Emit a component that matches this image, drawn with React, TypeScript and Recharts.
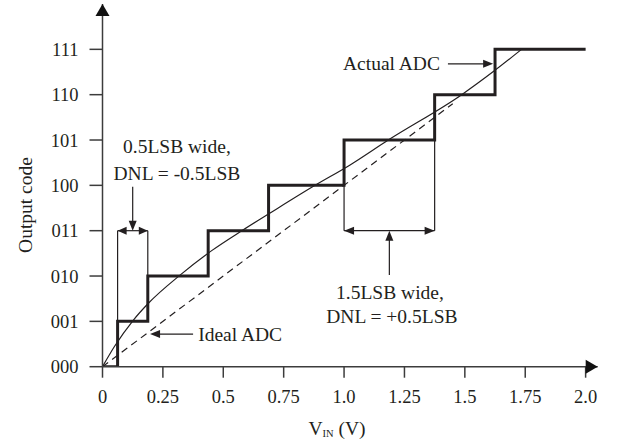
import {
  ComposedChart,
  Line,
  XAxis,
  YAxis,
  ReferenceLine,
  ReferenceDot,
} from "recharts";

// transfer curve data
const stepVin = [0, 0.0625, 0.1875, 0.4375, 0.6875, 1.0, 1.375, 1.625, 2.0];
const stepCode = [0, 1, 2, 3, 4, 5, 6, 7, 7];

const idealVin = [0, 1.45];
const idealCode = [0, 5.8];

const curveVin = [0, 0.05, 0.128, 0.19, 0.321, 0.452, 0.583, 0.694, 0.88, 1.025, 1.183, 1.487, 1.618, 1.735];
const curveCode = [0, 0.45, 1.03, 1.4, 2.02, 2.56, 3.02, 3.39, 4.0, 4.45, 5.0, 6.0, 6.51, 7.0];

const xTicks = [0, 0.25, 0.5, 0.75, 1.0, 1.25, 1.5, 1.75, 2.0];
const xTickLabels = ["0", "0.25", "0.5", "0.75", "1.0", "1.25", "1.5", "1.75", "2.0"];
const yTicks = [0, 1, 2, 3, 4, 5, 6, 7];
const yTickLabels = ["000", "001", "010", "011", "100", "101", "110", "111"];

const stepData = stepVin.map((x, i) => ({ x, y: stepCode[i] }));
const idealData = idealVin.map((x, i) => ({ x, y: idealCode[i] }));
const curveData = curveVin.map((x, i) => ({ x, y: curveCode[i] }));

const INK = "#231f20";
const AXIS = "#3c3c3c";
const FONT = "'Liberation Serif', 'Times New Roman', serif";
const NOTE_SIZE = 19.5;

type Dir = "up" | "down" | "left" | "right";

// filled triangle with its tip on (cx, cy)
const head = (dir: Dir, len = 10, half = 4, color = INK) => (p: any) => {
  const { cx, cy } = p;
  let pts = "";
  if (dir === "right") pts = `${cx},${cy} ${cx - len},${cy - half} ${cx - len},${cy + half}`;
  if (dir === "left") pts = `${cx},${cy} ${cx + len},${cy - half} ${cx + len},${cy + half}`;
  if (dir === "up") pts = `${cx},${cy} ${cx - half},${cy + len} ${cx + half},${cy + len}`;
  if (dir === "down") pts = `${cx},${cy} ${cx - half},${cy - len} ${cx + half},${cy - len}`;
  return <polygon points={pts} fill={color} />;
};

const note = (text: string, anchor: "start" | "middle" | "end" = "middle") => (p: any) => (
  <text
    x={p.cx}
    y={p.cy}
    textAnchor={anchor}
    dominantBaseline="central"
    fontFamily={FONT}
    fontSize={NOTE_SIZE}
    fill={INK}
  >
    {text}
  </text>
);

const seg = (x1: number, y1: number, x2: number, y2: number, key: string) => (
  <ReferenceLine
    key={key}
    segment={[{ x: x1, y: y1 }, { x: x2, y: y2 }]}
    stroke={INK}
    strokeWidth={1.2}
    ifOverflow="visible"
  />
);

const dot = (x: number, y: number, shape: any, key: string) => (
  <ReferenceDot key={key} x={x} y={y} r={0} shape={shape} ifOverflow="visible" />
);

export default function App() {
  return (
    <div style={{ position: "absolute", left: 0, top: 0, background: "#fff" }}>
      <ComposedChart
        width={619}
        height={443}
        margin={{ top: 4, right: 21.3, bottom: 31.3, left: 22.5 }}
      >
        <XAxis
          type="number"
          dataKey="x"
          domain={[0, 2.05]}
          ticks={xTicks}
          allowDataOverflow
          tickFormatter={(v: number) => xTickLabels[xTicks.indexOf(v)] ?? ""}
          height={45}
          tickSize={11}
          tickMargin={12}
          stroke={AXIS}
          strokeWidth={1.5}
          tick={{ fill: INK, fontSize: 18.5, fontFamily: FONT }}
          label={() => (
            <text x={337} y={428} textAnchor="middle" dominantBaseline="central" fontFamily={FONT} fontSize={NOTE_SIZE} fill={INK}>
              V
              <tspan fontSize={10.5} dy={5}>IN</tspan>
              <tspan dy={-5}> (V)</tspan>
            </text>
          )}
        />
        <YAxis
          type="number"
          dataKey="y"
          domain={[0, 8]}
          ticks={yTicks}
          allowDataOverflow
          tickFormatter={(v: number) => yTickLabels[v] ?? ""}
          width={80}
          tickSize={13}
          tickMargin={11}
          stroke={AXIS}
          strokeWidth={1.5}
          tick={{ fill: INK, fontSize: 18.5, fontFamily: FONT }}
          label={() => (
            <text
              x={25}
              y={205}
              transform="rotate(-90, 25, 205)"
              textAnchor="middle"
              dominantBaseline="central"
              fontFamily={FONT}
              fontSize={NOTE_SIZE}
              fill={INK}
            >
              Output code
            </text>
          )}
        />

        {/* axis arrowheads */}
        {dot(0, 8, head("up", 12, 7, "#111"), "yarrow")}
        {dot(2.05, 0, head("right", 12, 7, "#111"), "xarrow")}

        <Line
          data={idealData}
          dataKey="y"
          type="linear"
          stroke={INK}
          strokeWidth={1.2}
          strokeDasharray="7 5"
          dot={false}
          isAnimationActive={false}
        />
        <Line
          data={curveData}
          dataKey="y"
          type="monotone"
          stroke={INK}
          strokeWidth={1.2}
          dot={false}
          isAnimationActive={false}
        />
        <Line
          data={stepData}
          dataKey="y"
          type="stepAfter"
          stroke={INK}
          strokeWidth={3}
          dot={false}
          isAnimationActive={false}
        />

        {/* 0.5 LSB annotation */}
        {seg(0.0625, 1, 0.0625, 3, "a1")}
        {seg(0.1875, 2, 0.1875, 3, "a2")}
        {seg(0.0625, 3, 0.1875, 3, "a3")}
        {dot(0.0625, 3, head("left", 9, 4), "a4")}
        {dot(0.1875, 3, head("right", 9, 4), "a5")}
        {seg(0.125, 3.97, 0.125, 3.15, "a6")}
        {dot(0.125, 3, head("down", 10, 4), "a7")}
        {dot(0.308, 4.85, note("0.5LSB wide,"), "a8")}
        {dot(0.308, 4.27, note("DNL = -0.5LSB"), "a9")}

        {/* 1.5 LSB annotation */}
        {seg(1.0, 4, 1.0, 3, "b1")}
        {seg(1.375, 5, 1.375, 3, "b2")}
        {seg(1.0, 3, 1.375, 3, "b3")}
        {dot(1.0, 3, head("left", 10, 4), "b4")}
        {dot(1.375, 3, head("right", 10, 4), "b5")}
        {seg(1.1875, 2.02, 1.1875, 2.85, "b6")}
        {dot(1.1875, 3, head("up", 10, 4), "b7")}
        {dot(1.19, 1.63, note("1.5LSB wide,"), "b8")}
        {dot(1.198, 1.1, note("DNL = +0.5LSB"), "b9")}

        {/* labels for the two curves */}
        {seg(1.43, 6.68, 1.58, 6.68, "c1")}
        {dot(1.617, 6.68, head("right", 10, 4), "c2")}
        {dot(1.397, 6.68, note("Actual ADC", "end"), "c3")}
        {seg(0.375, 0.72, 0.23, 0.72, "d1")}
        {dot(0.197, 0.72, head("left", 10, 4), "d2")}
        {dot(0.396, 0.72, note("Ideal ADC", "start"), "d3")}
      </ComposedChart>
    </div>
  );
}
